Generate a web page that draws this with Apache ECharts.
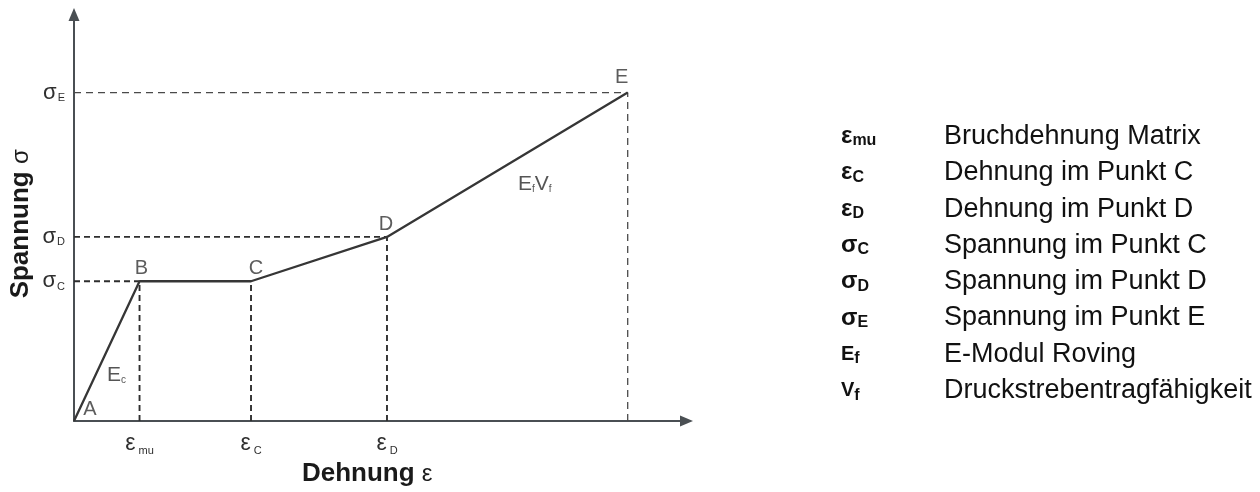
<!DOCTYPE html>
<html>
<head>
<meta charset="utf-8">
<script src="https://cdn.jsdelivr.net/npm/echarts@6/dist/echarts.min.js"></script>
<style>
  html, body { margin: 0; padding: 0; background: #ffffff; }
  #chart { width: 1260px; height: 492px; }
</style>
</head>
<body>
<div id="chart"></div>
<script>
// Idealised stress-strain curve of textile reinforced concrete (points A–E)
const pointNames = ['A', 'B', 'C', 'D', 'E'];
const strain = [0, 10.7, 28.9, 51.1, 90.4];
const stress = [0, 34.4, 34.4, 45.3, 80.8];

// Characteristic values marked on the axes
const strainTickValues = [strain[1], strain[2], strain[3]];
const strainTickSubs = ['mu', 'C', 'D'];
const stressTickValues = [stress[2], stress[3], stress[4]];
const stressTickSubs = ['C', 'D', 'E'];

// Slope annotations of the two linear branches
const slopeTexts = ['{m|E}{s|c}', '{m|E}{s|f}{m|V}{s|f}'];
const slopeAnchors = [[5.4, 11.3], [72.5, 58.3]];

// Symbol list
const legendSymbols = [
  ['ε', 'mu'], ['ε', 'C'], ['ε', 'D'],
  ['σ', 'C'], ['σ', 'D'], ['σ', 'E'],
  ['E', 'f'], ['V', 'f']
];
const legendTexts = [
  'Bruchdehnung Matrix',
  'Dehnung im Punkt C',
  'Dehnung im Punkt D',
  'Spannung im Punkt C',
  'Spannung im Punkt D',
  'Spannung im Punkt E',
  'E-Modul Roving',
  'Druckstrebentragfähigkeit'
];

const FONT = '"Liberation Sans", Arial, sans-serif';
const INK = '#2f2f2f';

// label offsets of the point letters, relative to each point
const pointLabelOffsets = { A: [16, 1], B: [2, 0], C: [5, 0], D: [-1, 1], E: [-6, -2] };

const curve = strain.map((x, i) => [x, stress[i]]);

function guide(data, width, dash, color) {
  return {
    type: 'line', data: data, symbol: 'none', silent: true, z: 2,
    lineStyle: { color: color, width: width, type: dash }
  };
}

// dashed guides from the points down to the strain axis and across to the stress axis
const guides = [];
for (let i = 1; i < curve.length; i++) {
  const last = i === curve.length - 1;
  const w = last ? 1.3 : 1.9;
  const d = last ? [7, 5] : [6, 4];
  const c = last ? '#4a4a4a' : '#2e2e2e';
  guides.push(guide([[strain[i], 0], [strain[i], stress[i]]], w, d, c));
  if (stress[i] !== stress[i - 1]) {
    guides.push(guide([[0, stress[i]], [strain[i], stress[i]]], w, d, c));
  }
}

const legendTop = 136.5, legendStep = 36.3;
const graphic = [];
legendSymbols.forEach((sym, i) => {
  const greek = sym[0] === 'ε' || sym[0] === 'σ';
  graphic.push({
    type: 'text', x: 841, y: legendTop + legendStep * i, silent: true,
    style: {
      text: '{g|' + sym[0] + '}{s|' + sym[1] + '}',
      verticalAlign: 'middle',
      rich: {
        g: { fontFamily: FONT, fontWeight: 'bold', fontSize: greek ? 24 : 20, fill: '#111111' },
        s: { fontFamily: FONT, fontWeight: 'bold', fontSize: 16, fill: '#111111', padding: [9, 0, 0, 0] }
      }
    }
  });
  graphic.push({
    type: 'text', x: 944, y: legendTop + legendStep * i, silent: true,
    style: {
      text: legendTexts[i], verticalAlign: 'middle',
      font: '27px ' + FONT, fill: '#111111'
    }
  });
});

const axisName = {
  b: { fontFamily: FONT, fontWeight: 'bold', fontSize: 26, color: '#1a1a1a' },
  r: { fontFamily: FONT, fontSize: 24, color: '#1a1a1a' }
};

const chart = echarts.init(document.getElementById('chart'), null, { renderer: 'canvas' });
chart.setOption({
  animation: false,
  backgroundColor: '#ffffff',
  grid: { left: 74, top: 14.5, right: 573.5, bottom: 69, containLabel: false },
  xAxis: {
    type: 'value', min: 0, max: 100,
    name: '{b|Dehnung }{r|ε}',
    nameLocation: 'middle', nameGap: 36,
    nameTextStyle: { padding: [0, 26, 0, 0], rich: axisName },
    axisLine: { lineStyle: { color: '#4a4f53', width: 2 }, symbol: ['none', 'triangle'], symbolSize: [11, 13] },
    axisTick: { show: false },
    splitLine: { show: false },
    axisLabel: {
      customValues: strainTickValues,
      margin: 11,
      formatter: function (v) {
        const k = strainTickValues.indexOf(v);
        return k < 0 ? '' : '{g|ε}{s|' + strainTickSubs[k] + '}';
      },
      rich: {
        g: { fontFamily: FONT, fontSize: 23, color: INK },
        s: { fontFamily: FONT, fontSize: 11, color: INK, padding: [13, 0, 0, 3] }
      }
    }
  },
  yAxis: {
    type: 'value', min: 0, max: 100,
    name: '{b|Spannung }{r|σ}',
    nameLocation: 'middle', nameGap: 40,
    nameTextStyle: { padding: [0, 12, 0, 0], rich: axisName },
    axisLine: { lineStyle: { color: '#4a4f53', width: 2 }, symbol: ['none', 'triangle'], symbolSize: [11, 13] },
    axisTick: { show: false },
    splitLine: { show: false },
    axisLabel: {
      customValues: stressTickValues,
      margin: 9,
      formatter: function (v) {
        const k = stressTickValues.indexOf(v);
        return k < 0 ? '' : '{g|σ}{s|' + stressTickSubs[k] + '}';
      },
      rich: {
        g: { fontFamily: FONT, fontSize: 22, color: INK },
        s: { fontFamily: FONT, fontSize: 11, color: INK, padding: [11, 0, 0, 1] }
      }
    }
  },
  graphic: graphic,
  series: guides.concat([
    {
      type: 'line', data: curve, symbol: 'none', silent: true, z: 3,
      lineStyle: { color: '#363636', width: 2.3 }
    },
    {
      type: 'scatter', silent: true, z: 4, symbolSize: 0,
      data: curve.map((p, i) => ({
        value: p, name: pointNames[i],
        label: { offset: pointLabelOffsets[pointNames[i]] }
      })),
      label: {
        show: true, position: 'top', distance: 3,
        formatter: '{b}',
        fontFamily: FONT, fontSize: 20, color: '#333333'
      }
    },
    {
      type: 'scatter', silent: true, z: 4, symbolSize: 0,
      data: slopeAnchors.map((p, i) => ({ value: p, name: slopeTexts[i] })),
      label: {
        show: true, position: 'right', distance: 0,
        formatter: '{b}',
        rich: {
          m: { fontFamily: FONT, fontSize: 21, color: '#2a2a2a' },
          s: { fontFamily: FONT, fontSize: 10, color: '#2a2a2a', padding: [10, 0, 0, 0] }
        }
      }
    }
  ])
});
</script>
</body>
</html>
